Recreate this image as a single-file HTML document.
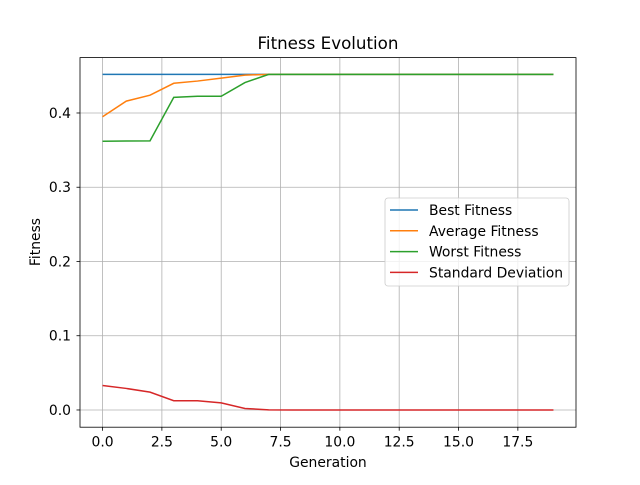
<!DOCTYPE html>
<html><head><meta charset="utf-8"><style>
body{margin:0;background:#fff;font-family:"Liberation Sans","DejaVu Sans",sans-serif}
</style></head><body>
<svg id="chart" width="640" height="480" xmlns="http://www.w3.org/2000/svg" font-family="DejaVu Sans, Liberation Sans, sans-serif">
<rect width="640" height="480" fill="#fff"/>
<g id="grid"></g>
<g id="series"></g>
<rect x="80" y="57.6" width="496" height="369.6" fill="none" stroke="#000" stroke-width="0.8"/>
<g id="ticks"></g>
<text x="328" y="49" text-anchor="middle" font-size="16.7">Fitness Evolution</text>
<text x="328" y="467" text-anchor="middle" font-size="13.9">Generation</text>
<text x="40" y="242" text-anchor="middle" font-size="13.9" transform="rotate(-90 40 242)">Fitness</text>
<g id="legend"></g>
</svg>
<script>
const generations=[0,1,2,3,4,5,6,7,8,9,10,11,12,13,14,15,16,17,18,19];
const bestFitness=[0.452,0.452,0.452,0.452,0.452,0.452,0.452,0.452,0.452,0.452,0.452,0.452,0.452,0.452,0.452,0.452,0.452,0.452,0.452,0.452];
const avgFitness=[0.395,0.416,0.424,0.440,0.443,0.447,0.451,0.452,0.452,0.452,0.452,0.452,0.452,0.452,0.452,0.452,0.452,0.452,0.452,0.452];
const worstFitness=[0.362,0.3623,0.3625,0.421,0.4225,0.4225,0.441,0.452,0.452,0.452,0.452,0.452,0.452,0.452,0.452,0.452,0.452,0.452,0.452,0.452];
const stdDev=[0.033,0.029,0.024,0.0125,0.0125,0.0095,0.002,0.0002,0,0,0,0,0,0,0,0,0,0,0,0];
const xTicks=[0,2.5,5,7.5,10,12.5,15,17.5];
const xTickLabels=["0.0","2.5","5.0","7.5","10.0","12.5","15.0","17.5"];
const yTicks=[0,0.1,0.2,0.3,0.4];
const yTickLabels=["0.0","0.1","0.2","0.3","0.4"];
const seriesNames=["Best Fitness","Average Fitness","Worst Fitness","Standard Deviation"];
const colors=["#1f77b4","#ff7f0e","#2ca02c","#d62728"];
const L=80,R=576,T=57.6,B=427.2;
const xMin=-0.95,xMax=19.95,yMin=-0.0232,yMax=0.4746;
const sx=v=>L+(v-xMin)/(xMax-xMin)*(R-L);
const sy=v=>B-(v-yMin)/(yMax-yMin)*(B-T);
const NS="http://www.w3.org/2000/svg";
function mk(tag,attrs,parent){const e=document.createElementNS(NS,tag);for(const k in attrs)e.setAttribute(k,attrs[k]);parent.appendChild(e);return e;}
const grid=document.getElementById('grid'),ticks=document.getElementById('ticks'),ser=document.getElementById('series'),leg=document.getElementById('legend');
xTicks.forEach((t,i)=>{const x=sx(t);
 let g=mk('line',{x1:x,x2:x,y1:T,y2:B,stroke:'#b0b0b0','stroke-width':0.8},grid);
 
 let k=mk('line',{x1:x,x2:x,y1:B,y2:B+3.5,stroke:'#000','stroke-width':0.8},ticks);
 
 let l=mk('text',{x:x,y:B+19.5,'text-anchor':'middle','font-size':13.9},ticks);l.textContent=xTickLabels[i];
 });
yTicks.forEach((t,i)=>{const y=sy(t);
 let g=mk('line',{x1:L,x2:R,y1:y,y2:y,stroke:'#b0b0b0','stroke-width':0.8},grid);
 
 let k=mk('line',{x1:L-3.5,x2:L,y1:y,y2:y,stroke:'#000','stroke-width':0.8},ticks);
 
 let l=mk('text',{x:L-9,y:y+5,'text-anchor':'end','font-size':13.9},ticks);l.textContent=yTickLabels[i];
 });
[bestFitness,avgFitness,worstFitness,stdDev].forEach((d,si)=>{
 const p=mk('polyline',{points:d.map((v,i)=>sx(generations[i])+','+sy(v)).join(' '),fill:'none',stroke:colors[si],'stroke-width':1.5},ser);
 
 });
const lb=mk('rect',{x:385,y:198,width:184,height:88,rx:3,fill:'#fff','fill-opacity':0.8,stroke:'#ccc','stroke-width':0.8},leg);

seriesNames.forEach((n,i)=>{const y=210+i*20.8;
 const ln=mk('line',{x1:390,x2:418,y1:y,y2:y,stroke:colors[i],'stroke-width':1.5},leg);
 
 const t=mk('text',{x:429,y:y+5,'font-size':13.9},leg);t.textContent=n;
 });
</script>
</body></html>
